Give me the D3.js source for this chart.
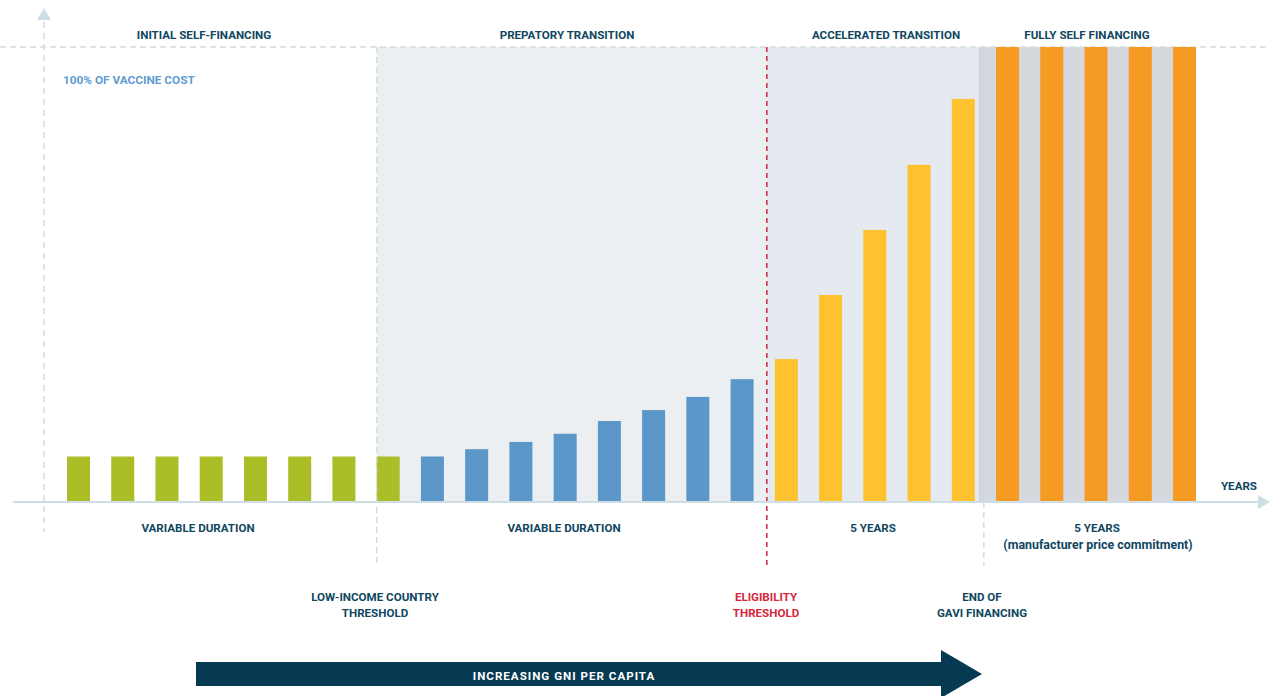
<!DOCTYPE html>
<html>
<head>
<meta charset="utf-8">
<script src="https://cdn.jsdelivr.net/npm/d3@7"></script>
<style>
  html, body { margin: 0; padding: 0; background: #ffffff; }
  svg { display: block; }
  text { font-family: "Liberation Sans Narrow", "Roboto", "DejaVu Sans Condensed", sans-serif; font-weight: bold; }
</style>
</head>
<body>
<svg id="chart" width="1270" height="696"></svg>
<script>
// ---------- data ----------
const phaseTitles = ["INITIAL SELF-FINANCING", "PREPATORY TRANSITION", "ACCELERATED TRANSITION", "FULLY SELF FINANCING"];
const durationLabels = ["VARIABLE DURATION", "VARIABLE DURATION", "5 YEARS", "5 YEARS"];
const durationNote = "(manufacturer price commitment)";
const thresholdLabels = [["LOW-INCOME COUNTRY", "THRESHOLD"], ["ELIGIBILITY", "THRESHOLD"], ["END OF", "GAVI FINANCING"]];
const initialValues = [10, 10, 10, 10, 10, 10, 10, 10];
const preparatoryValues = [10, 11.6, 13.2, 15.0, 17.8, 20.2, 23.1, 27.0];
const acceleratedValues = [31.4, 45.5, 59.8, 74.1, 88.6];
const selfFinancingValues = [100, 100, 100, 100, 100];
const yLabel = "100% OF VACCINE COST";
const xLabel = "YEARS";
const arrowLabel = "INCREASING GNI PER CAPITA";

// ---------- styles ----------
const C = {
  text: "#10475f", red: "#d5263c", blueText: "#5f9cd1",
  green: "#abbd27", blue: "#5b97c9", yellow: "#fdc22e", orange: "#f59a23",
  region1: "#ebeff1", region2: "#e5eaf1", grey: "#d5d8dc", greyEdge: "#d0d6de",
  axis: "#cfdde5", dash: "#d2dde2", arrow: "#063a52"
};
const FS = 11.6;

const svg = d3.select("#chart");

const groups = [
  {vals: initialValues, color: C.green},
  {vals: preparatoryValues, color: C.blue},
  {vals: acceleratedValues, color: C.yellow},
  {vals: selfFinancingValues, color: C.orange}
];
const bars = [];
groups.forEach((g, gi) => g.vals.forEach(v => bars.push({v, color: g.color, group: gi})));
bars.forEach((b, i) => b.i = i);

const baseY = 502, topY = 47;
const x = d3.scaleBand().domain(bars.map(b => b.i)).range([67, 1196]).paddingInner(0.48).paddingOuter(0);
const y = d3.scaleLinear().domain([0, 100]).range([baseY, topY]);

// boundaries derived from bar positions
const region1Start = x(7);
const eligX = x(16) - 8;                // eligibility threshold
const endGaviX = x(20) + x.bandwidth() + 4;
const greyEnd = x(25);

// shaded regions
svg.append("rect").attr("x", region1Start).attr("y", topY).attr("width", eligX - region1Start).attr("height", baseY - topY).attr("fill", C.region1);
svg.append("rect").attr("x", eligX).attr("y", topY).attr("width", endGaviX - eligX).attr("height", baseY - topY).attr("fill", C.region2);
svg.append("rect").attr("x", endGaviX).attr("y", topY).attr("width", greyEnd - endGaviX).attr("height", baseY - topY).attr("fill", C.grey);
svg.append("rect").attr("x", endGaviX).attr("y", topY).attr("width", 5).attr("height", baseY - topY).attr("fill", C.greyEdge);

// top dashed line (100%)
svg.append("line").attr("x1", 0).attr("x2", 1270).attr("y1", y(100)).attr("y2", y(100))
  .attr("stroke", C.dash).attr("stroke-width", 1.5).attr("stroke-dasharray", "6,4");

// bars
svg.append("g").selectAll("rect").data(bars).join("rect")
  .attr("x", d => x(d.i)).attr("width", x.bandwidth())
  .attr("y", d => y(d.v)).attr("height", d => y(0) - y(d.v))
  .attr("fill", d => d.color);

// vertical dashed separators
svg.append("line").attr("x1", region1Start).attr("x2", region1Start).attr("y1", topY).attr("y2", 565)
  .attr("stroke", C.dash).attr("stroke-width", 1.5).attr("stroke-dasharray", "6,4");
svg.append("line").attr("x1", endGaviX + 5).attr("x2", endGaviX + 5).attr("y1", baseY).attr("y2", 565)
  .attr("stroke", C.dash).attr("stroke-width", 1.5).attr("stroke-dasharray", "6,4");
svg.append("line").attr("x1", eligX).attr("x2", eligX).attr("y1", topY).attr("y2", 565)
  .attr("stroke", C.red).attr("stroke-width", 1.5).attr("stroke-dasharray", "5,4");

// y axis (dashed with arrow)
svg.append("line").attr("x1", 44).attr("x2", 44).attr("y1", 22).attr("y2", 532)
  .attr("stroke", C.dash).attr("stroke-width", 1.5).attr("stroke-dasharray", "6,5");
svg.append("path").attr("d", "M44,8 L51,20 L37,20 Z").attr("fill", C.axis);

// x axis with arrow
svg.append("line").attr("x1", 13).attr("x2", 1258).attr("y1", baseY).attr("y2", baseY)
  .attr("stroke", C.axis).attr("stroke-width", 2);
svg.append("path").attr("d", "M1258,495 L1270,502 L1258,509 Z").attr("fill", C.axis);

// phase titles
const titleX = [204, 567, 886, 1087];
svg.append("g").selectAll("text").data(phaseTitles).join("text")
  .attr("x", (d, i) => titleX[i]).attr("y", 38.5).attr("text-anchor", "middle")
  .attr("font-size", FS).attr("fill", C.text).text(d => d);

svg.append("text").attr("x", 63).attr("y", 84).attr("font-size", 11.8).attr("fill", C.blueText).text(yLabel);
svg.append("text").attr("x", 1257).attr("y", 490).attr("text-anchor", "end").attr("font-size", FS).attr("fill", C.text).text(xLabel);

// duration labels
const durX = [198, 564, 873, 1097];
svg.append("g").selectAll("text").data(durationLabels).join("text")
  .attr("x", (d, i) => durX[i]).attr("y", 532).attr("text-anchor", "middle")
  .attr("font-size", FS).attr("fill", C.text).text(d => d);
svg.append("text").attr("x", 1098).attr("y", 548.5).attr("text-anchor", "middle")
  .attr("font-size", 12.4).attr("fill", C.text).text(durationNote);

// threshold labels
const thrX = [375, 766, 982];
const thrColor = [C.text, C.red, C.text];
thresholdLabels.forEach((lines, i) => {
  const t = svg.append("text").attr("x", thrX[i]).attr("y", 601).attr("text-anchor", "middle")
    .attr("font-size", FS).attr("fill", thrColor[i]);
  lines.forEach((l, j) => t.append("tspan").attr("x", thrX[i]).attr("dy", j === 0 ? 0 : 16).text(l));
});

// big arrow
svg.append("path").attr("d", "M196,662 L941,662 L941,650 L982,674 L941,698 L941,686 L196,686 Z").attr("fill", C.arrow);
svg.append("text").attr("x", 564).attr("y", 679.5).attr("text-anchor", "middle")
  .attr("font-size", FS).attr("letter-spacing", 1.0).attr("fill", "#ffffff").text(arrowLabel);
</script>
</body>
</html>
